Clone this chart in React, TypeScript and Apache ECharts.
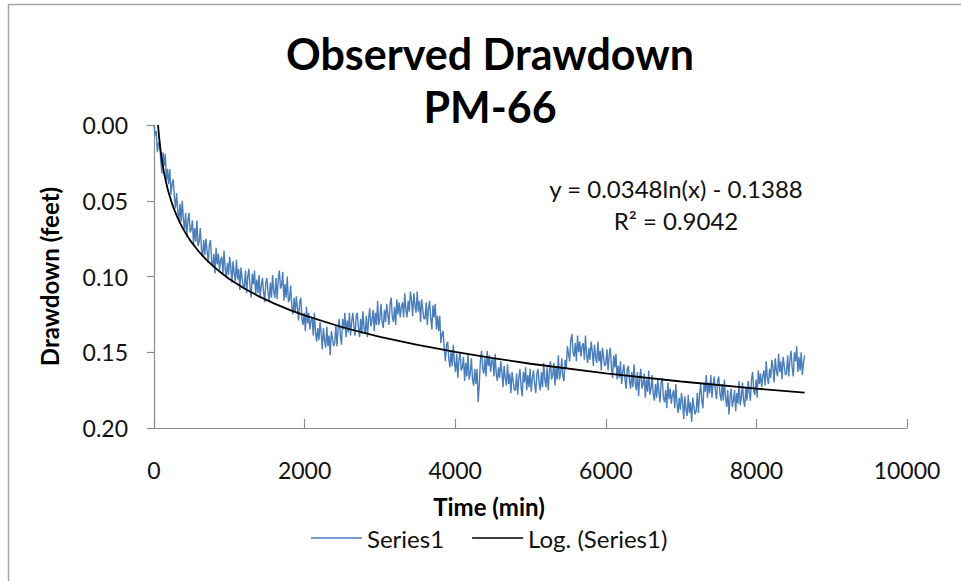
import React, { useEffect, useRef } from "react";
import * as echarts from "echarts";

const chartTitle = "Observed Drawdown\nPM-66";
const xAxisName = "Time (min)";
const yAxisName = "Drawdown (feet)";
const seriesName = "Series1";
const trendName = "Log. (Series1)";
const equationLines = ["y = 0.0348ln(x) - 0.1388", "R² = 0.9042"];

const xMin = 0;
const xMax = 10000;
const xInterval = 2000;
const yMin = 0;
const yMax = 0.2;
const yInterval = 0.05;

// observed drawdown (feet), one reading every 15 minutes
const sampleStepMin = 15;
const drawdown = [
  0.000, 0.007, 0.004, 0.018, 0.012, 0.011, 0.024, 0.032, 0.018, 0.027, 0.019, 0.037, 0.029, 0.039, 0.029, 0.046, 0.039, 0.036, 0.047, 0.055,
  0.045, 0.056, 0.063, 0.052, 0.064, 0.050, 0.062, 0.069, 0.058, 0.074, 0.063, 0.058, 0.071, 0.069, 0.063, 0.079, 0.068, 0.077, 0.063, 0.080,
  0.077, 0.068, 0.082, 0.087, 0.076, 0.086, 0.075, 0.083, 0.091, 0.079, 0.076, 0.090, 0.093, 0.085, 0.098, 0.081, 0.092, 0.085, 0.096, 0.089,
  0.087, 0.098, 0.083, 0.095, 0.101, 0.091, 0.099, 0.087, 0.094, 0.104, 0.090, 0.098, 0.103, 0.089, 0.102, 0.095, 0.109, 0.094, 0.101, 0.107,
  0.107, 0.096, 0.111, 0.100, 0.095, 0.107, 0.114, 0.098, 0.105, 0.096, 0.112, 0.102, 0.111, 0.099, 0.114, 0.106, 0.101, 0.110, 0.117, 0.104,
  0.101, 0.111, 0.116, 0.104, 0.114, 0.099, 0.110, 0.114, 0.101, 0.115, 0.102, 0.096, 0.108, 0.106, 0.097, 0.116, 0.105, 0.114, 0.100, 0.117,
  0.115, 0.106, 0.120, 0.125, 0.114, 0.124, 0.113, 0.121, 0.129, 0.117, 0.114, 0.128, 0.132, 0.124, 0.136, 0.120, 0.131, 0.124, 0.135, 0.129,
  0.127, 0.139, 0.124, 0.137, 0.143, 0.134, 0.142, 0.130, 0.137, 0.148, 0.134, 0.142, 0.147, 0.133, 0.146, 0.139, 0.152, 0.136, 0.141, 0.146,
  0.144, 0.132, 0.146, 0.134, 0.128, 0.139, 0.145, 0.128, 0.135, 0.124, 0.140, 0.129, 0.137, 0.124, 0.139, 0.130, 0.124, 0.133, 0.139, 0.126,
  0.124, 0.134, 0.140, 0.128, 0.138, 0.123, 0.134, 0.138, 0.126, 0.140, 0.128, 0.121, 0.133, 0.129, 0.122, 0.136, 0.124, 0.132, 0.116, 0.132,
  0.128, 0.118, 0.130, 0.134, 0.122, 0.130, 0.118, 0.125, 0.132, 0.118, 0.114, 0.127, 0.130, 0.120, 0.132, 0.115, 0.125, 0.117, 0.127, 0.120,
  0.117, 0.127, 0.111, 0.122, 0.127, 0.116, 0.123, 0.110, 0.116, 0.126, 0.111, 0.119, 0.124, 0.110, 0.123, 0.116, 0.130, 0.115, 0.122, 0.128,
  0.128, 0.117, 0.132, 0.121, 0.116, 0.128, 0.135, 0.119, 0.127, 0.118, 0.135, 0.126, 0.136, 0.126, 0.144, 0.138, 0.136, 0.148, 0.156, 0.145,
  0.143, 0.154, 0.160, 0.149, 0.159, 0.145, 0.157, 0.163, 0.151, 0.167, 0.155, 0.150, 0.162, 0.160, 0.153, 0.169, 0.157, 0.166, 0.151, 0.168,
  0.164, 0.154, 0.168, 0.172, 0.161, 0.171, 0.161, 0.183, 0.171, 0.155, 0.149, 0.161, 0.164, 0.154, 0.166, 0.149, 0.159, 0.152, 0.163, 0.156,
  0.154, 0.166, 0.151, 0.164, 0.169, 0.160, 0.167, 0.156, 0.163, 0.173, 0.159, 0.167, 0.172, 0.158, 0.171, 0.164, 0.177, 0.163, 0.169, 0.175,
  0.175, 0.164, 0.178, 0.167, 0.161, 0.173, 0.179, 0.163, 0.170, 0.160, 0.175, 0.165, 0.173, 0.161, 0.176, 0.167, 0.162, 0.171, 0.177, 0.164,
  0.161, 0.171, 0.175, 0.163, 0.173, 0.157, 0.168, 0.173, 0.160, 0.175, 0.163, 0.156, 0.168, 0.165, 0.157, 0.172, 0.160, 0.168, 0.152, 0.168,
  0.164, 0.154, 0.166, 0.169, 0.155, 0.161, 0.146, 0.151, 0.156, 0.142, 0.138, 0.150, 0.153, 0.144, 0.156, 0.139, 0.150, 0.143, 0.153, 0.146,
  0.144, 0.155, 0.139, 0.152, 0.157, 0.147, 0.155, 0.143, 0.149, 0.159, 0.145, 0.153, 0.157, 0.143, 0.156, 0.149, 0.162, 0.147, 0.153, 0.159,
  0.158, 0.148, 0.162, 0.152, 0.147, 0.160, 0.167, 0.152, 0.160, 0.151, 0.168, 0.159, 0.167, 0.156, 0.171, 0.163, 0.158, 0.168, 0.174, 0.161,
  0.159, 0.169, 0.174, 0.163, 0.173, 0.158, 0.170, 0.175, 0.163, 0.179, 0.167, 0.161, 0.174, 0.171, 0.164, 0.180, 0.168, 0.176, 0.162, 0.178,
  0.174, 0.165, 0.178, 0.182, 0.171, 0.180, 0.168, 0.176, 0.183, 0.170, 0.167, 0.180, 0.183, 0.175, 0.187, 0.170, 0.181, 0.174, 0.184, 0.178,
  0.175, 0.187, 0.171, 0.184, 0.190, 0.180, 0.188, 0.177, 0.183, 0.194, 0.179, 0.188, 0.192, 0.178, 0.190, 0.183, 0.196, 0.180, 0.186, 0.191,
  0.189, 0.177, 0.190, 0.178, 0.171, 0.182, 0.187, 0.170, 0.176, 0.165, 0.180, 0.170, 0.177, 0.165, 0.180, 0.171, 0.166, 0.175, 0.181, 0.169,
  0.166, 0.177, 0.182, 0.171, 0.182, 0.168, 0.180, 0.186, 0.175, 0.191, 0.180, 0.174, 0.186, 0.182, 0.175, 0.189, 0.177, 0.184, 0.169, 0.185,
  0.180, 0.170, 0.182, 0.186, 0.173, 0.182, 0.169, 0.176, 0.182, 0.168, 0.163, 0.176, 0.178, 0.168, 0.180, 0.162, 0.171, 0.164, 0.173, 0.166,
  0.162, 0.172, 0.156, 0.167, 0.171, 0.161, 0.167, 0.155, 0.160, 0.170, 0.154, 0.162, 0.166, 0.151, 0.163, 0.156, 0.168, 0.153, 0.159, 0.165,
  0.164, 0.152, 0.166, 0.155, 0.149, 0.160, 0.166, 0.150, 0.156, 0.146, 0.163, 0.153, 0.162, 0.150, 0.165, 0.157, 0.152,
];

// logarithmic trendline (y = 0.0348 ln(x) - 0.1388), tabulated at selected times
const trendTime = [54, 60, 70, 80, 90, 100, 120, 140, 160, 180, 200, 230, 260, 300, 350, 400, 450, 500, 600, 700, 800, 900, 1000, 1200, 1400, 1600, 1800, 2000, 2500, 3000, 3500, 4000, 4500, 5000, 6000, 7000, 8000, 8640];
const trendDrawdown = [0.0, 0.0037, 0.009, 0.0137, 0.0178, 0.0215, 0.0278, 0.0332, 0.0378, 0.0419, 0.0456, 0.0504, 0.0547, 0.0597, 0.0651, 0.0697, 0.0738, 0.0775, 0.0838, 0.0892, 0.0938, 0.0979, 0.1016, 0.1079, 0.1133, 0.1179, 0.122, 0.1257, 0.1335, 0.1398, 0.1452, 0.1498, 0.1539, 0.1576, 0.1639, 0.1693, 0.174, 0.1766];

const FONT = "Lato, 'Open Sans', sans-serif";
const AXIS_GRAY = "#8c8c8c";

export default function App() {
  const ref = useRef<HTMLDivElement>(null);

  useEffect(() => {
    if (!ref.current) return;
    const chart = echarts.init(ref.current, null, { renderer: "svg" });
    const observed = drawdown.map((v, i) => [i * sampleStepMin, v]);
    const trend = trendTime.map((t, i) => [t, trendDrawdown[i]]);

    chart.setOption({
      animation: false,
      backgroundColor: "#ffffff",
      textStyle: { fontFamily: FONT },
      title: {
        text: chartTitle,
        left: 485,
        textAlign: "center",
        top: 22,
        textStyle: {
          fontFamily: FONT,
          fontSize: 43,
          fontWeight: "bold",
          color: "#000000",
          lineHeight: 53,
        },
      },
      grid: { left: 154, top: 125, width: 753, height: 303, containLabel: false },
      xAxis: {
        type: "value",
        min: xMin,
        max: xMax,
        interval: xInterval,
        axisLine: { onZero: false, lineStyle: { color: AXIS_GRAY, width: 1.2 } },
        axisTick: { inside: true, length: 9, lineStyle: { color: AXIS_GRAY, width: 1.2 } },
        axisLabel: {
          fontFamily: FONT,
          fontSize: 23,
          color: "#111",
          margin: 30,
          formatter: (v: number) => String(v),
        },
        splitLine: { show: false },
      },
      yAxis: {
        type: "value",
        inverse: true,
        min: yMin,
        max: yMax,
        interval: yInterval,
        name: yAxisName,
        nameLocation: "middle",
        nameGap: 93,
        nameRotate: 90,
        nameTextStyle: { fontFamily: FONT, fontSize: 24, fontWeight: "bold", color: "#000" },
        axisLine: { show: true, onZero: false, lineStyle: { color: AXIS_GRAY, width: 1.2 } },
        axisTick: { show: true, inside: false, length: 7, lineStyle: { color: AXIS_GRAY, width: 1.2 } },
        axisLabel: {
          fontFamily: FONT,
          fontSize: 23,
          color: "#111",
          margin: 26,
          formatter: (v: number) => v.toFixed(2),
        },
        splitLine: { show: false },
      },
      legend: {
        left: 306,
        top: 521,
        icon: "rect",
        itemWidth: 51,
        itemHeight: 1.5,
        itemGap: 28,
        textStyle: { fontFamily: FONT, fontSize: 24, color: "#111" },
        data: [seriesName, trendName],
      },
      series: [
        {
          name: seriesName,
          type: "line",
          data: observed,
          showSymbol: false,
          symbol: "none",
          lineStyle: { color: "#4A7EBB", width: 1.4 },
          itemStyle: { color: "#4A7EBB" },
          z: 2,
        },
        {
          name: trendName,
          type: "line",
          data: trend,
          showSymbol: false,
          symbol: "none",
          lineStyle: { color: "#000000", width: 1.8 },
          itemStyle: { color: "#000000" },
          z: 3,
        },
      ],
      graphic: [
        {
          type: "line",
          shape: { x1: 8.5, y1: 4, x2: 8.5, y2: 581 },
          style: { stroke: "#a6a6a6", lineWidth: 1.5 },
        },
        {
          type: "line",
          shape: { x1: 8, y1: 4.5, x2: 961, y2: 4.5 },
          style: { stroke: "#a6a6a6", lineWidth: 1.5 },
        },
        {
          type: "text",
          x: 489,
          y: 506,
          style: {
            text: xAxisName,
            font: `bold 24px ${FONT}`,
            fill: "#000",
            textAlign: "center",
            textVerticalAlign: "middle",
          },
        },
        {
          type: "text",
          x: 676,
          y: 188,
          style: {
            text: equationLines[0],
            font: `24px ${FONT}`,
            fill: "#111",
            textAlign: "center",
            textVerticalAlign: "middle",
          },
        },
        {
          type: "text",
          x: 676,
          y: 220,
          style: {
            text: equationLines[1],
            font: `24px ${FONT}`,
            fill: "#111",
            textAlign: "center",
            textVerticalAlign: "middle",
          },
        },
      ],
    });

    return () => chart.dispose();
  }, []);

  return (
    <div
      ref={ref}
      style={{ position: "fixed", left: 0, top: 0, width: 961, height: 581, background: "#fff" }}
    />
  );
}
